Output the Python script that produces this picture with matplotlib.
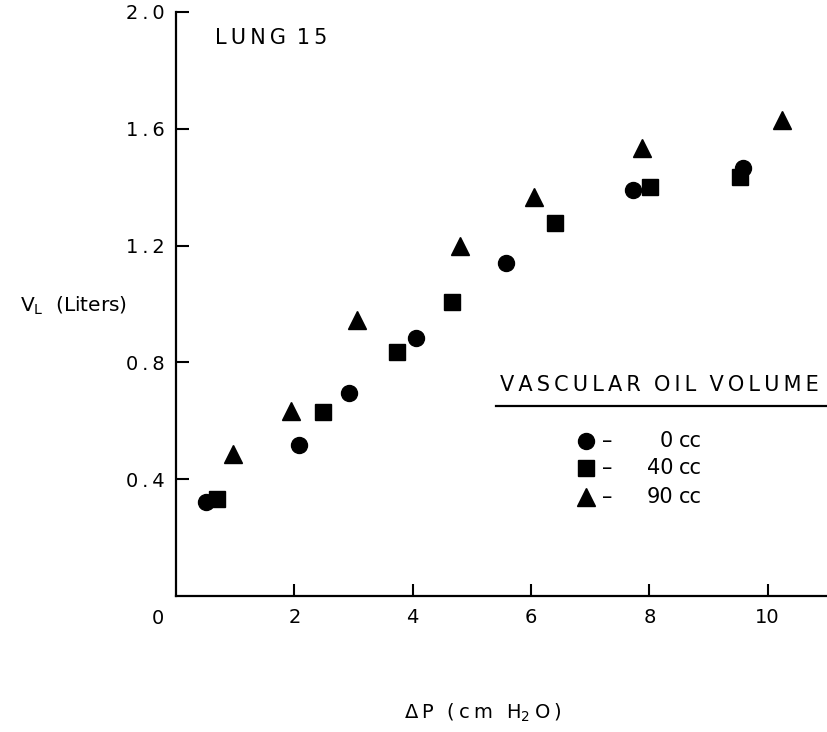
import numpy as np
import matplotlib.pyplot as plt

# pressure (cm H2O) and lung volume (liters)
dp_0 = [0.51, 2.07, 2.93, 4.05, 5.57, 7.72, 9.59]
vl_0 = [0.323, 0.516, 0.694, 0.883, 1.139, 1.390, 1.465]

dp_40 = [0.69, 2.49, 3.74, 4.66, 6.41, 8.01, 9.53]
vl_40 = [0.333, 0.629, 0.835, 1.008, 1.278, 1.402, 1.436]

dp_90 = [0.96, 1.94, 3.06, 4.80, 6.05, 7.87, 10.25]
vl_90 = [0.486, 0.634, 0.945, 1.199, 1.365, 1.535, 1.630]

x_ticks = [2, 4, 6, 8, 10]
y_ticks = [0.4, 0.8, 1.2, 1.6, 2.0]
legend_labels = ['0', '40', '90']

TS = '\u2009'  # thin space, used to open up the lettering a bit


def spread(s):
    return TS.join(s)


fig = plt.figure(figsize=(8.28, 7.32), dpi=100)
ax = fig.add_axes([0.2126, 0.1858, 0.786, 0.798])

ax.plot(dp_0, vl_0, 'o', c='black', ms=11.5)
ax.plot(dp_40, vl_40, 's', c='black', ms=11)
ax.plot(dp_90, vl_90, '^', c='black', ms=13)

ax.set_xlim(0, 11)
ax.set_ylim(0, 2.0)
ax.spines['top'].set_visible(False)
ax.spines['right'].set_visible(False)
ax.spines['left'].set_linewidth(1.6)
ax.spines['bottom'].set_linewidth(1.6)

ax.set_xticks(x_ticks)
ax.set_xticklabels([str(t) for t in x_ticks])
ax.set_yticks(y_ticks)
ax.set_yticklabels([spread(f'{t:.1f}') for t in y_ticks])
ax.tick_params(direction='in', length=9, width=1.5, labelsize=14)
ax.tick_params(axis='x', pad=9)
ax.tick_params(axis='y', pad=8)

# origin label
ax.text(-0.30, -0.045, '0', fontsize=14, ha='center', va='top')

ax.text(0.66, 1.911, spread('LUNG') + ' ' + TS + spread('15'), fontsize=15,
        ha='left', va='center')

fig.text(0.024, 0.5738, r'V$_\mathrm{L}$  (Liters)', fontsize=14.5,
         ha='left', va='baseline')
fig.text(0.583, 0.0178, spread('\u0394P (cm H') + '$_2$' + TS + 'O' + TS + ')',
         fontsize=14, ha='center', va='baseline')

# legend block
ax.text(5.47, 0.723, spread('VASCULAR') + '  ' + spread('OIL') + '  ' + spread('VOLUME'),
        fontsize=15, ha='left', va='center')
ax.plot([5.4, 11.0], [0.652, 0.652], c='black', lw=1.6, clip_on=False)
leg_y = [0.531, 0.438, 0.339]
for mk, ms, lab, yy in zip(['o', 's', '^'], [11.5, 11, 13], legend_labels, leg_y):
    ax.plot([6.93], [yy], mk, c='black', ms=ms)
    ax.text(7.28, yy, '\u2013', fontsize=15, ha='center', va='center')
    ax.text(8.40, yy, lab, fontsize=15, ha='right', va='center')
    ax.text(8.50, yy, 'cc', fontsize=15, ha='left', va='center')

fig.savefig('out.png', dpi=100)
